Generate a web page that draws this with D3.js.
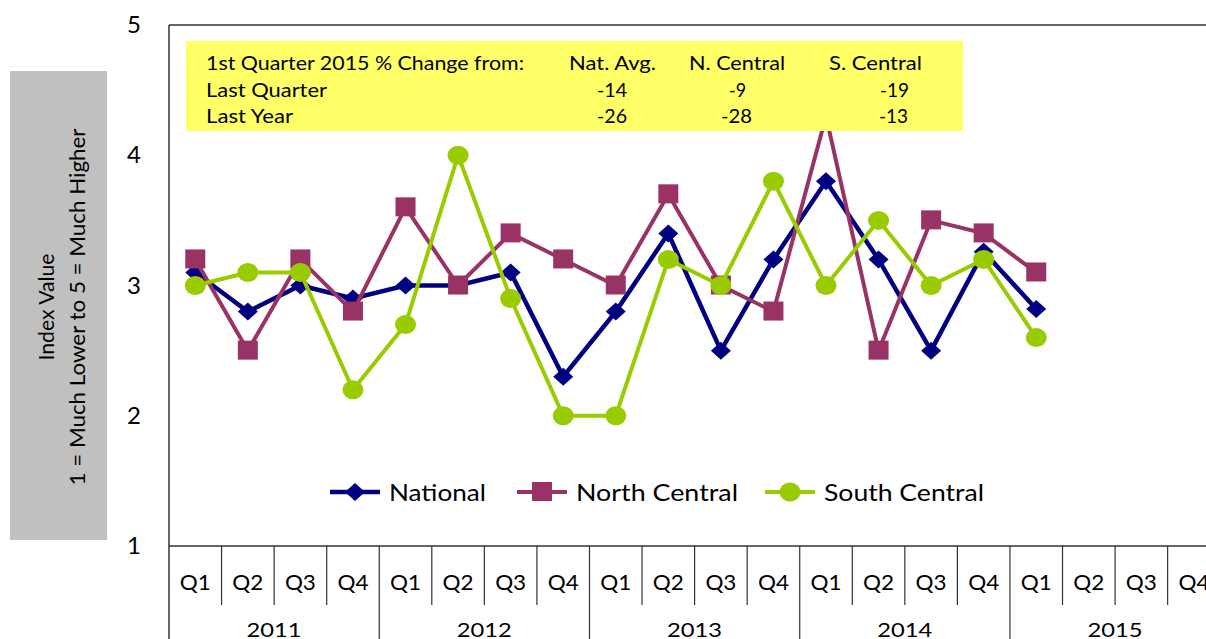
<!DOCTYPE html>
<html><head><meta charset="utf-8">
<script src="https://cdn.jsdelivr.net/npm/d3@7"></script>
<style>
html,body{margin:0;padding:0;background:#fff;overflow:hidden}
text{font-family:"Lato","Open Sans",sans-serif;fill:#000}
</style></head>
<body><svg id="c" width="1206" height="639"></svg>
<script>
const years = ["2011","2012","2013","2014","2015"];
const quarters = ["Q1","Q2","Q3","Q4"];
const national = [3.1,2.8,3.0,2.9, 3.0,3.0,3.1,2.3, 2.8,3.4,2.5,3.2, 3.8,3.2,2.5,3.26, 2.82];
const northCentral = [3.2,2.5,3.2,2.8, 3.6,3.0,3.4,3.2, 3.0,3.7,3.0,2.8, 4.3,2.5,3.5,3.4, 3.1];
const southCentral = [3.0,3.1,3.1,2.2, 2.7,4.0,2.9,2.0, 2.0,3.2,3.0,3.8, 3.0,3.5,3.0,3.2, 2.6];
const yTicks = [1,2,3,4,5];
const tableHeader = ["1st Quarter 2015 % Change from:","Nat. Avg.","N. Central","S. Central"];
const tableRows = [["Last Quarter","-14","-9","-19"],["Last Year","-26","-28","-13"]];
const seriesNames = ["National","North Central","South Central"];

const svg = d3.select("#c");
const pLeft = 169, pTop = 25, pBottom = 546, step = 52.56;
function fitTo(sel, w){ sel.attr("textLength", w).attr("lengthAdjust","spacingAndGlyphs"); }

const cats = [];
years.forEach(yr => quarters.forEach(q => cats.push(yr + "-" + q)));
const x = d3.scaleBand().domain(cats).range([pLeft, pLeft + step * cats.length]).padding(0);
const y = d3.scaleLinear().domain([1,5]).range([pBottom, pTop]);

// y label box
svg.append("rect").attr("x",10).attr("y",71).attr("width",97).attr("height",469).attr("fill","#c0c0c0");
const yl = svg.append("g").attr("transform","translate(0,307) rotate(-90)");
fitTo(yl.append("text").attr("x",0).attr("y",54).attr("text-anchor","middle").attr("font-size",22).attr("fill","#111").text("Index Value"), 107);
fitTo(yl.append("text").attr("x",0).attr("y",85).attr("text-anchor","middle").attr("font-size",22).attr("fill","#111").text("1 = Much Lower to  5 = Much Higher"), 357);

// frame
svg.append("line").attr("x1",pLeft).attr("x2",1206).attr("y1",pTop).attr("y2",pTop).attr("stroke","#333").attr("stroke-width",1.5);
svg.append("line").attr("x1",pLeft).attr("x2",pLeft).attr("y1",pTop).attr("y2",639).attr("stroke","#333").attr("stroke-width",1.5);

// y axis
const ya = svg.append("g").attr("transform",`translate(${pLeft},0)`)
  .call(d3.axisLeft(y).tickValues(yTicks).tickSize(0).tickPadding(28).tickFormat(d3.format("d")));
ya.select(".domain").remove();
ya.selectAll("text").attr("font-size",24).style("font-family","Lato, sans-serif").attr("fill","#000");

// x axis
const xa = svg.append("g").attr("transform",`translate(0,${pBottom})`)
  .call(d3.axisBottom(x).tickSize(0).tickPadding(0).tickFormat(d => d.split("-")[1]));
xa.select(".domain").remove();
xa.selectAll("text").attr("font-size",21).attr("dy",null).attr("y",44).style("font-family","Lato, sans-serif").attr("fill","#000");
fitTo(xa.selectAll("text"), 31);
svg.append("line").attr("x1",pLeft).attr("x2",1206).attr("y1",pBottom).attr("y2",pBottom).attr("stroke","#333").attr("stroke-width",1.5);
cats.forEach((c,i) => {
  if (i === 0) return;
  const xx = x(c);
  svg.append("line").attr("x1",xx).attr("x2",xx).attr("y1",pBottom).attr("y2", i % 4 === 0 ? 639 : 605)
    .attr("stroke","#333").attr("stroke-width",1.2);
});
years.forEach((yr,i) => {
  const cx = x(yr+"-Q1") + step*2;
  fitTo(svg.append("text").attr("x",cx).attr("y",637).attr("text-anchor","middle").attr("font-size",20).text(yr), 55);
});

// series
const series = [
  {name:seriesNames[0], vals:national, color:"#000080", w:4.5, marker:"diamond"},
  {name:seriesNames[1], vals:northCentral, color:"#993366", w:4, marker:"square"},
  {name:seriesNames[2], vals:southCentral, color:"#99cc00", w:4, marker:"circle"}
];
function drawMarker(g, type, cx, cy, color){
  if (type === "diamond") g.append("path").attr("d",`M${cx},${cy-9}L${cx+10},${cy}L${cx},${cy+9}L${cx-10},${cy}Z`).attr("fill",color);
  else if (type === "square") g.append("rect").attr("x",cx-10).attr("y",cy-10).attr("width",20).attr("height",19).attr("fill",color);
  else g.append("ellipse").attr("cx",cx).attr("cy",cy).attr("rx",10.5).attr("ry",9.5).attr("fill",color);
}
const line = d3.line().x((d,i) => x(cats[i]) + step/2).y(d => y(d));
series.forEach(s => {
  const g = svg.append("g");
  g.append("path").datum(s.vals).attr("d",line).attr("fill","none").attr("stroke",s.color).attr("stroke-width",s.w).attr("stroke-linejoin","miter");
  s.vals.forEach((v,i) => drawMarker(g, s.marker, x(cats[i]) + step/2, y(v), s.color));
});

// table box
svg.append("rect").attr("x",186).attr("y",41).attr("width",777).attr("height",90).attr("fill","#ffff66");
const colX = [206, 612.5, 737, 875.5];
const headW = [318, 87, 96, 93];
const valX = [[206, 612, 737.5, 894.5],[206, 612, 736.5, 893.5]];
const valW = [[121, 30, 17, 29],[87, 30, 31, 29]];
const rowsY = [70, 97, 123];
tableHeader.forEach((t,j) => {
  fitTo(svg.append("text").attr("x", colX[j]).attr("y",rowsY[0])
    .attr("text-anchor", j===0 ? "start" : "middle").attr("font-size",19).text(t), headW[j]);
});
tableRows.forEach((r,i) => r.forEach((t,j) => {
  fitTo(svg.append("text").attr("x",valX[i][j]).attr("y",rowsY[i+1]).attr("text-anchor", j===0 ? "start":"middle").attr("font-size",19).text(t), valW[i][j]);
}));

// legend
const legX = [330, 517, 765];
const legW = [97, 162, 160];
series.forEach((s,i) => {
  const g = svg.append("g");
  g.append("line").attr("x1",legX[i]).attr("x2",legX[i]+50).attr("y1",492).attr("y2",492).attr("stroke",s.color).attr("stroke-width",s.w);
  drawMarker(g, s.marker, legX[i]+25, 492, s.color);
  fitTo(g.append("text").attr("x",legX[i]+59).attr("y",501).attr("font-size",24).text(s.name), legW[i]);
});
</script></body></html>
